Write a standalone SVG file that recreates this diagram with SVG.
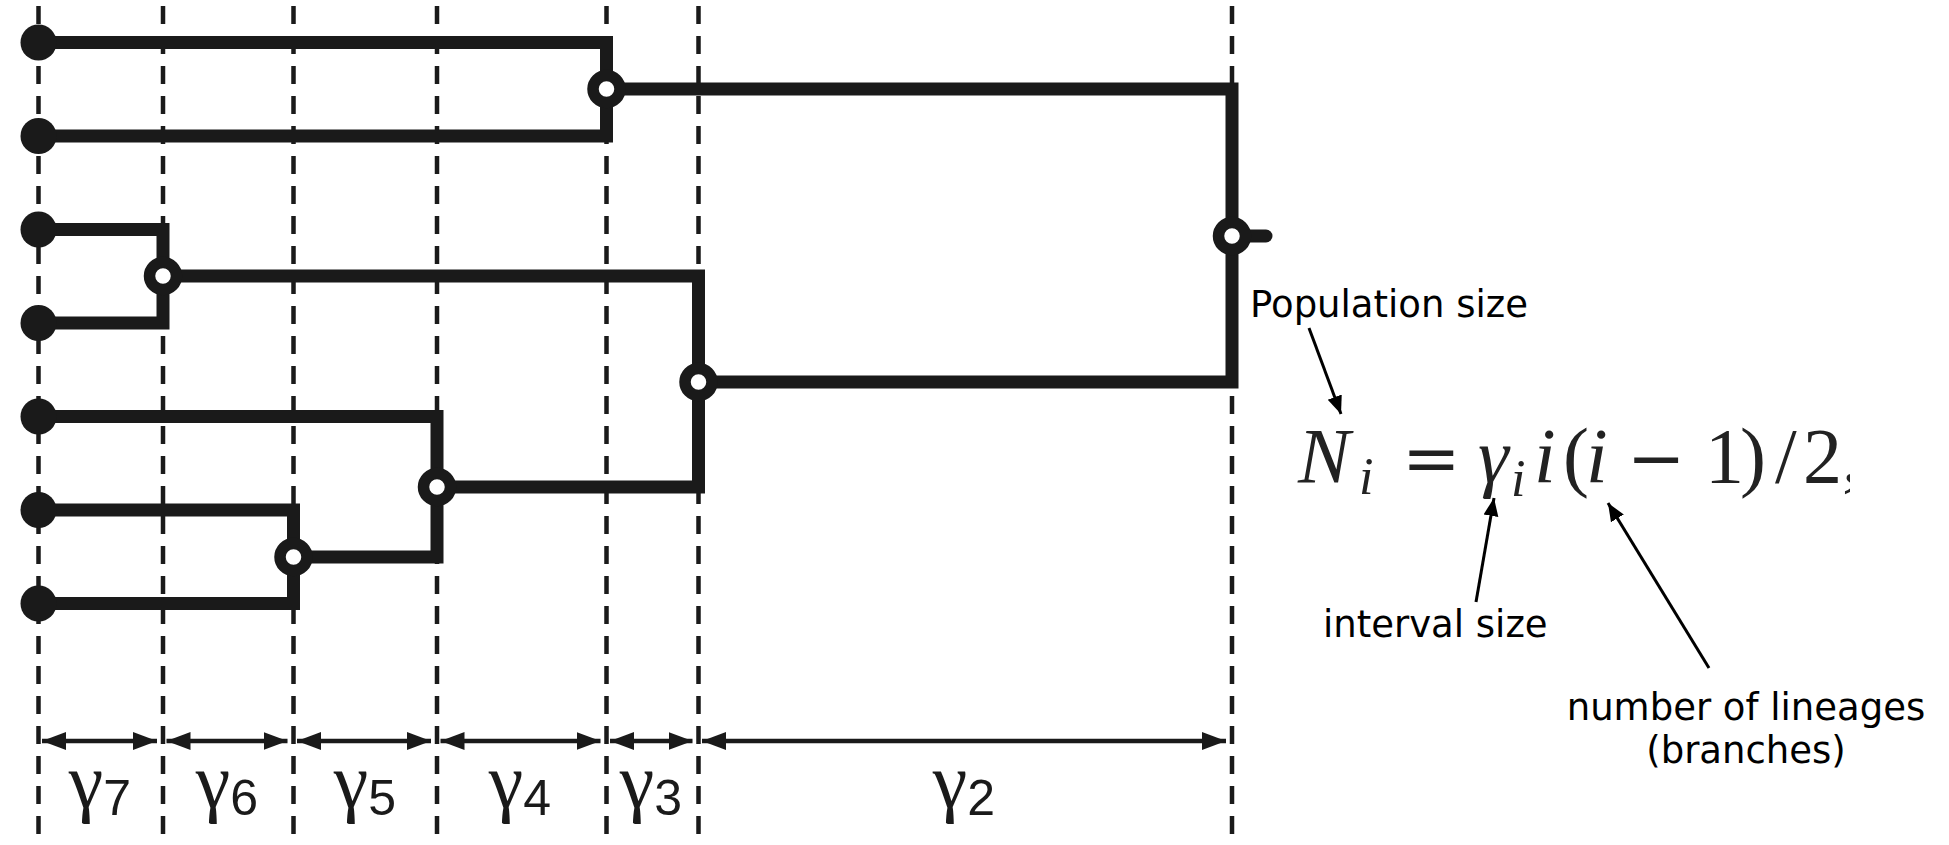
<svg xmlns="http://www.w3.org/2000/svg" width="1949" height="845" viewBox="0 0 1949 845">
<style>
.grid{stroke:#1a1a1a;stroke-width:4.5;stroke-dasharray:18 12;fill:none}
.edge{stroke:#1a1a1a;stroke-width:13;fill:none;stroke-linejoin:miter}
.leaf{fill:#1a1a1a}
.inner{fill:#fff;stroke:#1a1a1a;stroke-width:11.5}
.dim{stroke:#1a1a1a;stroke-width:4.5;fill:none;marker-start:url(#dimhead);marker-end:url(#dimhead)}
.glab{font-family:"Liberation Sans",Arial,sans-serif;font-size:50px;fill:#1a1a1a;text-anchor:middle}
.gg{font-family:"Liberation Serif","Times New Roman",serif;font-size:78px}
.ann{font-family:"DejaVu Sans",Verdana,sans-serif;font-size:37px;fill:#000}
.pt{stroke:#000;stroke-width:3;fill:none;marker-end:url(#pthead)}
.fm{font-family:"Liberation Serif","Times New Roman",serif;font-size:78px;fill:#222}
.it{font-style:italic}
.sub{font-size:52px}
.op{font-family:"DejaVu Serif",serif;font-size:70px}
</style>
<defs>
<marker id="dimhead" markerUnits="userSpaceOnUse" markerWidth="26" markerHeight="20" refX="24" refY="10" orient="auto-start-reverse" viewBox="0 0 26 20">
<path d="M0,1 L24,10 L0,19 Z" fill="#1a1a1a"/>
</marker>
<marker id="pthead" markerUnits="userSpaceOnUse" markerWidth="20" markerHeight="16" refX="18" refY="7.5" orient="auto" viewBox="0 0 20 15">
<path d="M0,0 L18,7.5 L0,15 Z" fill="#000"/>
</marker>
<clipPath id="fclip"><rect x="1280" y="400" width="570" height="120"/></clipPath>
</defs>

<g id="grid-lines">
<line class="grid" x1="38.5" y1="6" x2="38.5" y2="845"/>
<line class="grid" x1="163" y1="6" x2="163" y2="845"/>
<line class="grid" x1="293.5" y1="6" x2="293.5" y2="845"/>
<line class="grid" x1="437" y1="6" x2="437" y2="845"/>
<line class="grid" x1="606.5" y1="6" x2="606.5" y2="845"/>
<line class="grid" x1="698.5" y1="6" x2="698.5" y2="845"/>
<line class="grid" x1="1232" y1="6" x2="1232" y2="845"/>
</g>

<g id="connectors">
<path class="edge" d="M606.5,89 V42.5 H38.5"/>
<path class="edge" d="M606.5,89 V136 H38.5"/>
<path class="edge" d="M163,276 V229.5 H38.5"/>
<path class="edge" d="M163,276 V323 H38.5"/>
<path class="edge" d="M293.5,557 V510 H38.5"/>
<path class="edge" d="M293.5,557 V603.5 H38.5"/>
<path class="edge" d="M437,487 V416.5 H38.5"/>
<path class="edge" d="M437,487 V557 H293.5"/>
<path class="edge" d="M698.5,382 V276 H163"/>
<path class="edge" d="M698.5,382 V487 H437"/>
<path class="edge" d="M1232,236 V89 H606.5"/>
<path class="edge" d="M1232,236 V382 H698.5"/>
<path class="edge" d="M1232,236 H1266" stroke-linecap="round"/>
</g>

<g id="leaf1"><circle class="leaf" cx="38.5" cy="42.5" r="18"/></g>
<g id="leaf2"><circle class="leaf" cx="38.5" cy="136" r="18"/></g>
<g id="leaf3"><circle class="leaf" cx="38.5" cy="229.5" r="18"/></g>
<g id="leaf4"><circle class="leaf" cx="38.5" cy="323" r="18"/></g>
<g id="leaf5"><circle class="leaf" cx="38.5" cy="416.5" r="18"/></g>
<g id="leaf6"><circle class="leaf" cx="38.5" cy="510" r="18"/></g>
<g id="leaf7"><circle class="leaf" cx="38.5" cy="603.5" r="18"/></g>

<g id="node-A"><circle class="inner" cx="606.5" cy="89" r="13.5"/></g>
<g id="node-B"><circle class="inner" cx="163" cy="276" r="13.5"/></g>
<g id="node-C"><circle class="inner" cx="293.5" cy="557" r="13.5"/></g>
<g id="node-D"><circle class="inner" cx="437" cy="487" r="13.5"/></g>
<g id="node-E"><circle class="inner" cx="698.5" cy="382" r="13.5"/></g>
<g id="node-F"><circle class="inner" cx="1232" cy="236" r="13.5"/></g>

<g id="intervals">
<line class="dim" x1="42" y1="741" x2="157" y2="741"/>
<line class="dim" x1="166.5" y1="741" x2="287.5" y2="741"/>
<line class="dim" x1="297" y1="741" x2="431" y2="741"/>
<line class="dim" x1="440.5" y1="741" x2="600.5" y2="741"/>
<line class="dim" x1="610" y1="741" x2="692.5" y2="741"/>
<line class="dim" x1="702" y1="741" x2="1226" y2="741"/>
<text class="glab" x="100" y="807"><tspan class="gg">γ</tspan><tspan dy="8">7</tspan></text>
<text class="glab" x="227" y="807"><tspan class="gg">γ</tspan><tspan dy="8">6</tspan></text>
<text class="glab" x="365" y="807"><tspan class="gg">γ</tspan><tspan dy="8">5</tspan></text>
<text class="glab" x="520" y="807"><tspan class="gg">γ</tspan><tspan dy="8">4</tspan></text>
<text class="glab" x="651" y="807"><tspan class="gg">γ</tspan><tspan dy="8">3</tspan></text>
<text class="glab" x="964" y="807"><tspan class="gg">γ</tspan><tspan dy="8">2</tspan></text>
</g>

<g id="formula" clip-path="url(#fclip)">
<text class="fm" y="482">
<tspan class="it" x="1298">N</tspan>
<tspan class="it sub" x="1359" y="494">i</tspan>
<tspan class="op" x="1402" y="482">=</tspan>
<tspan class="it" x="1478" y="482">γ</tspan>
<tspan class="it sub" x="1511" y="496">i</tspan>
<tspan class="it" x="1534" y="482">i</tspan>
<tspan x="1563">(</tspan>
<tspan class="it" x="1586">i</tspan>
<tspan class="op" x="1627">−</tspan>
<tspan x="1705">1</tspan>
<tspan x="1740">)</tspan>
<tspan x="1775">/</tspan>
<tspan x="1803">2,</tspan>
</text>
</g>

<g id="annotations">
<text class="ann" x="1250" y="317">Population size</text>
<text class="ann" x="1323" y="637">interval size</text>
<text class="ann" x="1746" y="720" text-anchor="middle">number of lineages</text>
<text class="ann" x="1746" y="763" text-anchor="middle">(branches)</text>
<line class="pt" x1="1309" y1="328" x2="1341" y2="414"/>
<line class="pt" x1="1476" y1="602" x2="1494" y2="498"/>
<line class="pt" x1="1709" y1="668" x2="1608" y2="503"/>
</g>
</svg>
